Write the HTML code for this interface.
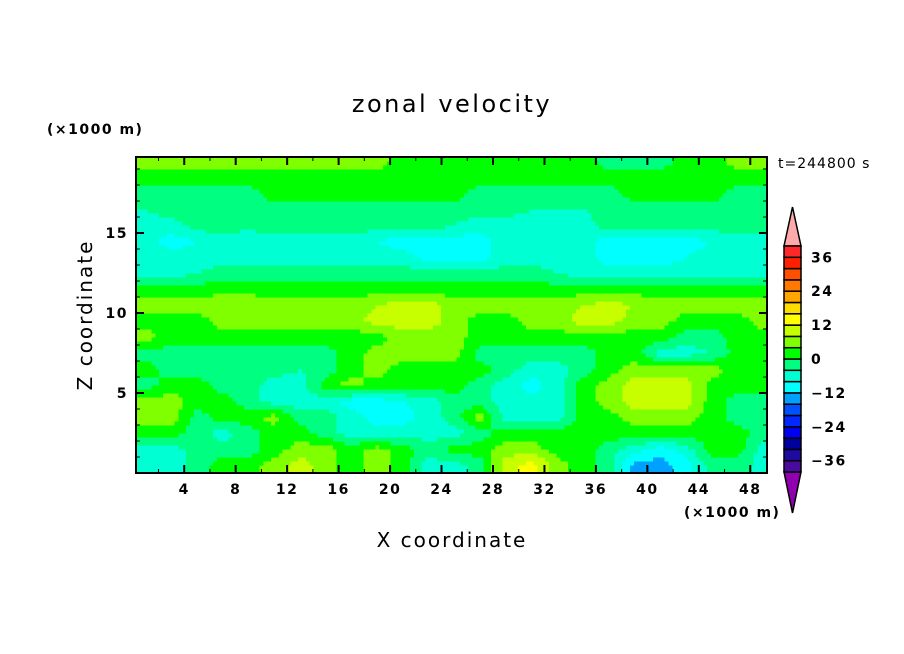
<!DOCTYPE html>
<html><head><meta charset="utf-8"><style>
body{margin:0;background:#fff;}
svg{display:block;font-family:"DejaVu Sans","Liberation Sans",sans-serif;}
.sm{font-weight:bold;letter-spacing:1.5px;}
</style></head><body>
<svg id="chart" width="904" height="654" viewBox="0 0 904 654" xmlns="http://www.w3.org/2000/svg">
<rect width="904" height="654" fill="#fff"/>
<g id="field"></g>
<g id="axes"></g>
<g id="cbar"></g>
<text x="452" y="112" font-size="24" text-anchor="middle" letter-spacing="2.5">zonal velocity</text>
<text class="sm" x="47" y="134" font-size="14">(×1000 m)</text>
<text x="778" y="168" font-size="14" letter-spacing="1">t=244800 s</text>
<text class="sm" x="684" y="517" font-size="14">(×1000 m)</text>
<text x="452" y="547" font-size="20" text-anchor="middle" letter-spacing="2">X coordinate</text>
<text transform="translate(92,315) rotate(-90)" font-size="20" text-anchor="middle" letter-spacing="2">Z coordinate</text>
</svg>
<script>
const xCenters = [1,3,5,7,9,11,13,15,17,19,21,23,25,27,29,31,33,35,37,39,41,43,45,47,49];
const zCenters = [0.5,1.5,2.5,3.5,4.5,5.5,6.5,7.5,8.5,9.5,10.5,11.5,12.5,13.5,14.5,15.5,16.5,17.5,18.5,19.5];
const u00 = [-6,-6,-2,2,2,6,10,6,2,6,2,-6,-6,-2,10,14,6,2,-2,-14,-14,-10,-2,-2,-6];
const u01 = [-6,-6,-2,-2,-2,2,6,6,2,6,2,-2,2,2,6,6,2,2,-2,-6,-10,-6,2,2,-6];
const u02 = [2,2,-2,-6,-2,2,2,-2,-6,-6,-6,-6,-6,-2,2,2,2,2,2,2,2,2,2,2,-2];
const u03 = [6,6,-2,2,2,6,-2,-2,-6,-10,-10,-6,-2,6,-6,-6,-6,2,2,6,6,6,2,-2,-2];
const u04 = [6,6,2,2,-2,-6,-6,-6,-10,-10,-8,-6,-2,-2,-6,-6,-6,2,6,10,10,10,2,-2,-2];
const u05 = [-2,2,2,-2,-2,-6,-6,2,6,2,2,2,2,-2,-6,-10,-6,2,6,10,10,10,2,2,2];
const u06 = [2,-2,-2,-2,-2,-2,-4,-2,2,6,2,2,2,2,-2,-6,-6,-2,2,6,6,6,6,2,2];
const u07 = [-2,-2,-2,-2,-2,-2,-2,-2,2,6,6,6,6,-2,-2,-2,-2,-2,2,2,-6,-6,-4,2,2];
const u08 = [6,2,2,2,2,2,2,2,2,2,6,6,6,2,2,2,2,2,2,2,2,-2,-2,2,2];
const u09 = [2,2,2,6,6,6,6,6,6,10,10,10,6,2,2,6,6,10,10,6,6,2,2,2,6];
const u10 = [6,6,6,8,8,6,6,6,6,8,10,10,6,6,6,6,6,8,10,8,6,6,6,6,6];
const u11 = [2,2,2,2,2,2,2,2,2,2,2,2,2,2,2,2,2,2,2,2,2,2,2,2,2];
const u12 = [-6,-6,-4,-2,-2,-2,-2,-2,-2,-2,-2,-2,-2,-2,-2,-2,-4,-6,-6,-6,-6,-6,-6,-6,-6];
const u13 = [-6,-6,-6,-6,-6,-6,-6,-6,-6,-6,-6,-10,-10,-10,-6,-6,-6,-6,-10,-10,-10,-8,-6,-6,-6];
const u14 = [-6,-10,-8,-6,-8,-6,-6,-6,-6,-8,-10,-10,-10,-10,-6,-6,-6,-6,-10,-10,-10,-10,-8,-6,-6];
const u15 = [-6,-6,-2,-2,-2,-2,-2,-2,-2,-2,-2,-2,-4,-6,-6,-6,-6,-6,-2,-2,-2,-2,-2,-2,-2];
const u16 = [-4,-2,-2,-2,-2,-2,-2,-2,-2,-2,-2,-2,-2,-2,-2,-4,-4,-4,-2,-2,-2,-2,-2,-2,-2];
const u17 = [-2,-2,-2,-2,-2,2,2,2,2,2,2,2,2,-2,-2,-2,-2,-2,-2,2,2,2,2,-2,-2];
const u18 = [2,2,2,2,2,2,2,2,2,2,2,2,2,2,2,2,2,2,2,2,2,2,2,2,2];
const u19 = [6,6,6,6,6,6,6,6,6,6,2,2,2,2,2,2,2,2,-2,-2,-2,2,2,6,6];
const rows = [u00,u01,u02,u03,u04,u05,u06,u07,u08,u09,u10,u11,u12,u13,u14,u15,u16,u17,u18,u19];
const levels = [-40,-36,-32,-28,-24,-20,-16,-12,-8,-4,0,4,8,12,16,20,24,28,32,36,40];
const levelColors = ["#4b0a9e","#1e0a9e","#0000a0","#0000f0","#0028ff","#0050ff","#00a0ff","#00ffff","#00ffd2","#00ff80","#00ff00","#80ff00","#c8ff00","#ffff00","#ffdc00","#ffa500","#ff7800","#ff5000","#ff2000","#ff2828"];
const xTicks = [4,8,12,16,20,24,28,32,36,40,44,48];
const zTicks = [5,10,15];
const cbarLabels = [36,24,12,0,-12,-24,-36];

const NS='http://www.w3.org/2000/svg';
const PL=136,PR=767,PT=157,PB=473;
const X0=0.25,X1=49.3,Z0=0,Z1=19.75;
const sx=x=>PL+(x-X0)/(X1-X0)*(PR-PL);
const sz=z=>PB-(z-Z0)/(Z1-Z0)*(PB-PT);
function mk(tag,attrs,parent){const e=document.createElementNS(NS,tag);for(const k in attrs)e.setAttribute(k,attrs[k]);parent.appendChild(e);return e;}
function colorFor(v){for(let i=0;i<levelColors.length;i++){if(v<levels[i+1])return levelColors[i];}return levelColors[levelColors.length-1];}
function sample(x,z){
  let fx=(x-xCenters[0])/(xCenters[1]-xCenters[0]);fx=Math.max(0,Math.min(xCenters.length-1.0001,fx));
  let fz=(z-zCenters[0])/(zCenters[1]-zCenters[0]);fz=Math.max(0,Math.min(zCenters.length-1.0001,fz));
  const i=Math.floor(fx),j=Math.floor(fz),a=fx-i,b=fz-j;
  return rows[j][i]*(1-a)*(1-b)+rows[j][i+1]*a*(1-b)+rows[j+1][i]*(1-a)*b+rows[j+1][i+1]*a*b;
}
const field=document.getElementById('field');
const STEPX=0.3,STEPZ=0.25;
for(let z=Z0;z<Z1;z+=STEPZ){
  let runStart=X0,runCol=null;
  const y0=sz(Math.min(z+STEPZ,Z1)),y1=sz(z);
  for(let x=X0;x<=X1+1e-9;x+=STEPX){
    const c=x<X1?colorFor(sample(x+STEPX/2,z+STEPZ/2)):null;
    if(c!==runCol){
      if(runCol){
        const r=mk('rect',{x:sx(runStart).toFixed(2),y:y0.toFixed(2),width:(sx(Math.min(x,X1))-sx(runStart)+0.6).toFixed(2),height:(y1-y0+0.6).toFixed(2),fill:runCol,'shape-rendering':'crispEdges'},field);
        
        
      }
      runStart=x;runCol=c;
    }
  }
  if(runCol){
    const r=mk('rect',{x:sx(runStart).toFixed(2),y:y0.toFixed(2),width:(PR-sx(runStart)).toFixed(2),height:(y1-y0+0.6).toFixed(2),fill:runCol,'shape-rendering':'crispEdges'},field);
    
    
  }
}
const axes=document.getElementById('axes');
const frame=mk('rect',{x:PL,y:PT,width:PR-PL,height:PB-PT,fill:'none',stroke:'#000','stroke-width':2},axes);


for(let x=2;x<=48;x+=2){
  const major=x%4===0,L=major?8:4,px=sx(x);
  mk('line',{x1:px,x2:px,y1:PB,y2:PB-L,stroke:'#000','stroke-width':major?2:1},axes);
  mk('line',{x1:px,x2:px,y1:PT,y2:PT+L,stroke:'#000','stroke-width':major?2:1},axes);
}
for(let z=1;z<=19;z++){
  const major=z%5===0,L=major?8:4,py=sz(z);
  mk('line',{x1:PL,x2:PL+L,y1:py,y2:py,stroke:'#000','stroke-width':major?2:1},axes);
  mk('line',{x1:PR,x2:PR-L,y1:py,y2:py,stroke:'#000','stroke-width':major?2:1},axes);
}
xTicks.forEach(v=>{const t=mk('text',{x:sx(v),y:PB+21,'font-size':14,'text-anchor':'middle','class':'sm'},axes);t.textContent=v;

});
zTicks.forEach(v=>{const t=mk('text',{x:PL-8,y:sz(v)+5,'font-size':14,'text-anchor':'end','class':'sm'},axes);t.textContent=v;

});
const cb=document.getElementById('cbar');
const CX=784,CW=17,CT=246,CB=472;
const cy=v=>CB-(v-levels[0])/(levels[levels.length-1]-levels[0])*(CB-CT);
const topTri=mk('polygon',{points:`${CX},${CT} ${CX+CW},${CT} ${CX+CW/2},${CT-39}`,fill:'#ffaaaa',stroke:'#000','stroke-width':1.5},cb);


const botTri=mk('polygon',{points:`${CX},${CB} ${CX+CW},${CB} ${CX+CW/2},${CB+41}`,fill:'#9000b0',stroke:'#000','stroke-width':1.5},cb);


for(let i=0;i<levelColors.length;i++){
  const r=mk('rect',{x:CX,y:cy(levels[i+1]),width:CW,height:cy(levels[i])-cy(levels[i+1]),fill:levelColors[i],stroke:'#000','stroke-width':1.5},cb);
  
  
}
cbarLabels.forEach(v=>{const t=mk('text',{x:811,y:cy(v)+5,'font-size':14,'class':'sm'},cb);t.textContent=v<0?'\u2212'+(-v):v;

});
</script>
</body></html>
